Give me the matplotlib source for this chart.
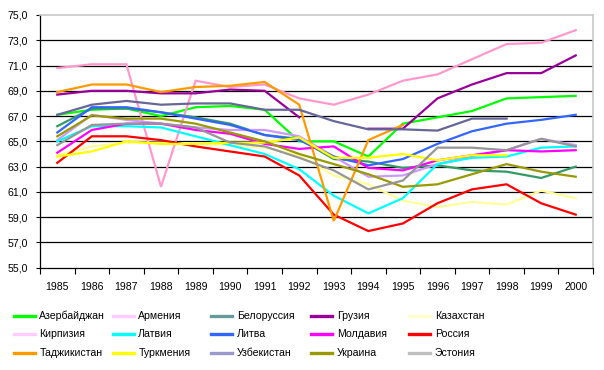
import numpy as np
import matplotlib
matplotlib.use("Agg")
import matplotlib.pyplot as plt
from matplotlib.lines import Line2D
from matplotlib.ticker import FuncFormatter, FixedLocator

plt.rcParams['font.family'] = ['Liberation Sans', 'DejaVu Sans']

nan = np.nan
years = list(range(1985, 2001))

countries = ["Азербайджан", "Армения", "Белоруссия", "Грузия", "Казахстан",
             "Кирпизия", "Латвия", "Литва", "Молдавия", "Россия",
             "Таджикистан", "Туркмения", "Узбекистан", "Украина", "Эстония"]

azerbaijan = [67.1, 67.5, 67.6, 67.0, 67.7, 67.8, 67.5, 65.0, 65.0, 63.8, 66.4, 66.9, 67.4, 68.4, 68.5, 68.6]
armenia    = [70.8, 71.1, 71.1, 61.4, 69.8, 69.3, 69.5, 68.4, 67.9, 68.7, 69.8, 70.3, 71.5, 72.7, 72.8, 73.8]
belarus    = [66.2, 67.6, 67.6, 67.3, 66.9, 66.4, 65.5, 65.2, 63.6, 63.4, 62.9, 63.1, 62.7, 62.6, 62.1, 63.0]
georgia    = [68.7, 69.0, 69.0, 68.8, 68.8, 69.1, 69.0, 66.9, nan, 66.0, 66.0, 68.4, 69.5, 70.4, 70.4, 71.8]
kazakhstan = [63.9, 64.6, 64.9, 64.9, 64.8, 64.7, 64.5, 63.9, 62.3, 61.6, 60.3, 59.8, 60.2, 60.0, 61.1, 60.5]
kyrgyzstan = [65.1, 67.1, 66.7, 66.4, 66.1, 65.9, 65.9, 65.4, 63.8, 62.2, 62.3, 63.2, 63.8, 64.3, 65.2, 64.7]
latvia     = [65.0, 66.2, 66.2, 66.1, 65.4, 64.7, 64.0, 62.8, 60.7, 59.3, 60.5, 63.2, 63.7, 63.8, 64.5, 64.6]
lithuania  = [65.7, 67.7, 67.7, 67.3, 66.8, 66.3, 65.5, 65.1, 63.8, 63.1, 63.6, 64.8, 65.8, 66.4, 66.7, 67.1]
moldova    = [64.1, 65.9, 66.4, 66.4, 65.9, 65.6, 64.8, 64.4, 64.6, 62.9, 62.7, 63.5, 63.9, 64.3, 64.2, 64.3]
russia     = [63.3, 65.4, 65.4, 65.1, 64.6, 64.2, 63.8, 62.3, 59.2, 57.9, 58.5, 60.1, 61.2, 61.6, 60.1, 59.2]
tajikistan = [68.9, 69.5, 69.5, 68.9, 69.3, 69.4, 69.7, 67.9, 58.7, 65.1, 66.3, nan, nan, nan, nan, nan]
turkmenia  = [63.8, 64.2, 65.0, 64.8, 64.8, 64.9, 64.9, 65.3, 63.7, 63.7, 64.0, 63.5, 63.9, 63.9, nan, nan]
uzbekistan = [67.1, 67.9, 68.2, 67.9, 68.0, 68.0, 67.5, 67.5, 66.6, 65.95, 65.95, 65.85, 66.8, 66.8, nan, nan]
ukraine    = [65.4, 67.05, 66.8, 66.8, 66.4, 65.7, 65.0, 64.0, 63.2, 62.4, 61.4, 61.6, 62.4, 63.2, 62.6, 62.2]
estonia    = [64.7, 66.3, 66.4, 66.4, 66.1, 64.9, 64.6, 63.7, 62.7, 61.2, 61.9, 64.5, 64.5, 64.3, 65.2, 64.6]

series = [azerbaijan, armenia, belarus, georgia, kazakhstan, kyrgyzstan, latvia,
          lithuania, moldova, russia, tajikistan, turkmenia, uzbekistan, ukraine, estonia]

line_colors = ["#00FF00", "#FF99CC", "#339966", "#990099", "#FFFF99",
               "#CC99FF", "#00FFFF", "#3366FF", "#FF00FF", "#FF0000",
               "#FF9900", "#FFFF00", "#666699", "#999900", "#969696"]
legend_colors = ["#00FF00", "#FFCCFF", "#669999", "#990099", "#FFFFCC",
                 "#FFCCFF", "#00FFFF", "#3366FF", "#FF00FF", "#FF0000",
                 "#FF9900", "#FFFF00", "#9999CC", "#999900", "#C0C0C0"]

W, H = 604, 370
fig = plt.figure(figsize=(W / 100, H / 100), dpi=100)
L, R, T, B = 40, 593, 15, 267.7
ax = fig.add_axes([L / W, 1 - B / H, (R - L) / W, (B - T) / H])

x = np.arange(len(years))
for vals, c in zip(series, line_colors):
    ax.plot(x, vals, color=c, lw=1.6, solid_joinstyle='miter')

ax.set_ylim(55, 75)
ax.set_xlim(-0.5, len(years) - 0.5)
ax.set_yticks(np.arange(55, 75.1, 2))
ax.yaxis.set_major_formatter(FuncFormatter(lambda v, p: f"{v:.1f}".replace('.', ',')))
for yv in np.arange(57, 75, 2):
    ax.axhline(yv, color='black', lw=0.9, zorder=0)

ax.set_xticks(x)
ax.set_xticklabels([str(y) for y in years])
ax.xaxis.set_minor_locator(FixedLocator(np.arange(-0.5, len(years), 1.0)))
ax.tick_params(axis='x', which='major', length=0, pad=10, labelsize=7.6)
ax.tick_params(axis='x', which='minor', length=4, width=0.8, direction='out', color='black')
ax.tick_params(axis='y', length=3, width=0.8, direction='out', pad=6, labelsize=7.6)

for s in ['left', 'bottom']:
    ax.spines[s].set_color('black')
    ax.spines[s].set_linewidth(0.9)
for s in ['top', 'right']:
    ax.spines[s].set_color('#C8C8C8')
    ax.spines[s].set_linewidth(1.2)

# legend (5 columns, row-wise)
row_y = [315.7, 334.3, 353.3]
hx0 = [14, 112.7, 211, 310.7, 409.3]
tx0 = [39.3, 138.3, 237, 336.7, 435]
for i, (name, c) in enumerate(zip(countries, legend_colors)):
    r, col = divmod(i, 5)
    yy = 1 - row_y[r] / H
    fig.add_artist(Line2D([hx0[col] / W, (hx0[col] + 21) / W], [yy, yy],
                          transform=fig.transFigure, color=c, lw=2.4))
    fig.text(tx0[col] / W, yy, name, fontsize=7.6, va='center', ha='left')

fig.savefig("out.png", dpi=100)
